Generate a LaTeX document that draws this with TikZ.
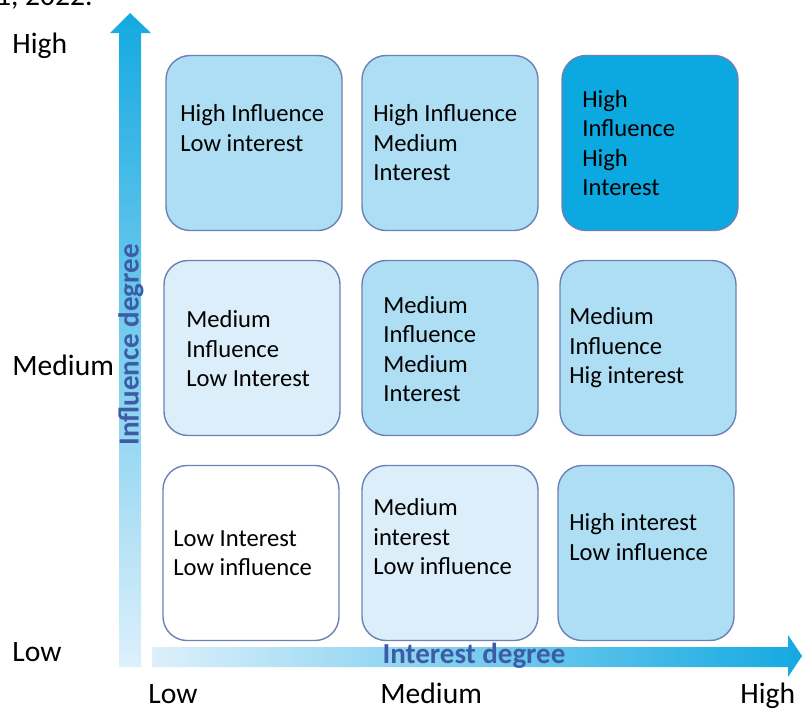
\documentclass[tikz,border=0pt]{standalone}
\usepackage{fontspec}
\setmainfont{Carlito}
\usetikzlibrary{arrows.meta,calc}
\definecolor{boxlight}{HTML}{ADDEF3}
\definecolor{boxpale}{HTML}{DCEEF9}
\definecolor{boxdark}{HTML}{0CA8E0}
\definecolor{boxline}{HTML}{6C82B6}
\definecolor{arrowblue}{HTML}{14A9E1}
\definecolor{arrowpale}{HTML}{DDF0FB}
\definecolor{labelblue}{HTML}{3D5CA6}
\tikzset{ 
   cell/.style  = {draw=boxline, line width=0.7pt, rounded corners=12pt,
                   minimum width=88pt, minimum height=87.5pt, inner sep=0pt},
   celltext/.style = {anchor=west, align=left, inner sep=0pt,
                   font=\fontsize{12.3}{14.75}\selectfont},
   level/.style = {anchor=base west, inner sep=0pt,
                   font=\fontsize{14.8}{16}\selectfont},
   axistitle/.style = {inner sep=0pt, text=labelblue,
                   font=\fontsize{14.5}{16}\selectfont\bfseries},
}

\begin{document}
\begin{tikzpicture}[x=0.5pt,y=-0.5pt]
   \useasboundingbox (0,0) rectangle (802,709);
   \clip (0,0) rectangle (802,709);

      \node[level, anchor=base east] (note) at (93,5){1, 2022.};

      % arrows
      \shade[bottom color=arrowpale, top color=arrowblue]
         (119,667) -- (119,33) -- (110,33) -- (130,13) -- (151,33)
         -- (141,33) -- (141,667) -- cycle;
      \shade[left color=arrowpale, right color=arrowblue]
         (152,647) -- (788,647) -- (788,635) -- (802,656) -- (788,677)
         -- (788,667) -- (152,667) -- cycle;
      \coordinate (yaxis) at (130,667);
      \coordinate (xaxis) at (152,657);

      \node[axistitle, rotate=90] (influence) at (131,345){Influence degree};
      \node[axistitle] (interest) at (474,656){Interest degree};

      % level labels
      \node[level] (yhigh) at (12,53){High};
      \node[level] (ymedium) at (12,375){Medium};
      \node[level] (ylow) at (12,661){Low};
      \node[level] (xlow) at (148,703){Low};
      \node[level] (xmedium) at (380,703){Medium};
      \node[level] (xhigh) at (740,703){High};

      % grid of cells
      \node[cell, fill=boxlight] (hl) at (254,143){};
      \node[cell, fill=boxlight] (hm) at (450,143){};
      \node[cell, fill=boxdark]  (hh) at (650,143){};

      \node[cell, fill=boxpale]  (ml) at (252,348){};
      \node[cell, fill=boxlight] (mm) at (450,348){};
      \node[cell, fill=boxlight] (mh) at (648,348){};

      \node[cell, fill=white]    (ll) at (251,553){};
      \node[cell, fill=boxpale]  (lm) at (450,553){};
      \node[cell, fill=boxlight] (lh) at (646,553){};

      \node[celltext] (hltext) at (180,128){High Influence\\Low interest};
      \node[celltext] (hmtext) at (373,143){High Influence\\Medium\\Interest};
      \node[celltext] (hhtext) at (582,143){High\\Influence\\High\\Interest};

      \node[celltext] (mltext) at (186,349){Medium\\Influence\\Low Interest};
      \node[celltext] (mmtext) at (383,349){Medium\\Influence\\Medium\\Interest};
      \node[celltext] (mhtext) at (569,348){Medium\\Influence\\Hig interest};

      \node[celltext] (lltext) at (173,553){Low Interest\\Low influence};
      \node[celltext] (lmtext) at (373,537){Medium\\interest\\Low influence};
      \node[celltext] (lhtext) at (569,537){High interest\\Low influence};
   \end{tikzpicture}
\end{document}
